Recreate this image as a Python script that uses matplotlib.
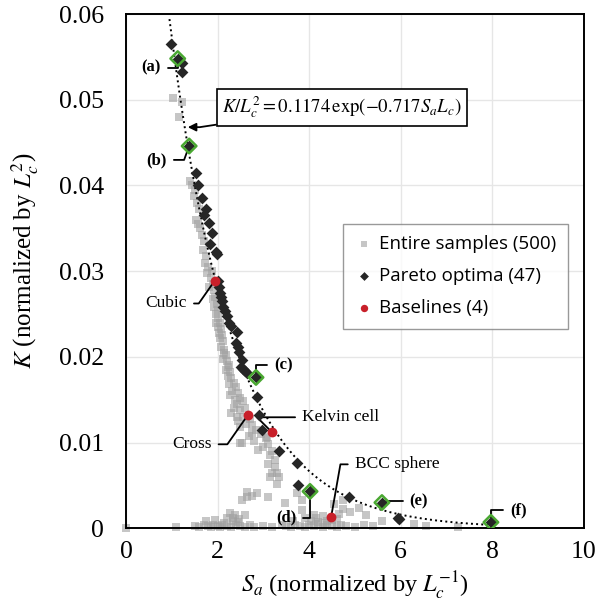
import numpy as np
import matplotlib
matplotlib.use("Agg")
import matplotlib.pyplot as plt

plt.rcParams['mathtext.fontset'] = 'stix'
plt.rcParams['font.family'] = ['Liberation Serif', 'DejaVu Serif']

# entire samples (gray squares)
samp_x = [0.0, 1.03, 1.16, 1.22,
          1.40, 1.45, 1.50, 1.48, 1.55, 1.60, 1.52, 1.58, 1.62, 1.65, 1.70, 1.68, 1.75, 1.72, 1.80, 1.78,
          1.85, 1.88, 1.90, 1.92, 1.95, 1.98, 2.00, 1.96, 2.02, 2.05, 2.08, 2.03, 2.10, 2.12, 2.08, 2.15,
          2.18, 2.12, 2.20, 2.25, 2.18, 2.28, 2.22, 2.30, 2.35, 2.25, 2.40, 2.32, 2.45, 2.28, 2.50, 2.38,
          2.55, 2.42, 2.35, 2.48, 2.60, 2.30, 2.55, 2.70, 2.45, 2.62, 2.75, 2.50, 2.85, 2.95, 2.68, 3.05,
          2.80, 3.10, 3.00, 3.20, 3.15, 3.25, 3.10, 3.30, 3.20, 3.35, 3.25, 3.30, 3.08, 2.88, 2.53, 2.75,
          2.64, 2.75, 2.86, 2.53, 2.27, 2.34, 2.60, 3.10, 3.14, 3.47, 3.73, 2.42, 2.34, 2.64, 2.49,
          1.10, 1.50, 1.60, 1.70, 1.80, 1.85, 1.90, 2.00, 2.05, 2.10, 2.20, 2.30, 2.40, 2.50, 2.60, 2.70,
          2.80, 3.00, 3.20, 3.40, 3.50, 3.60, 3.70, 3.80, 3.90, 4.00, 4.10, 4.20, 4.30, 4.40, 4.50, 4.60,
          4.70, 4.80, 5.00, 5.20, 5.40, 6.30, 6.55, 7.25,
          1.75, 1.95, 2.15, 2.45, 3.65, 3.90, 4.05, 4.15, 4.30, 4.40, 4.60, 4.65, 4.75, 4.90, 5.10, 5.25,
          5.60, 3.85, 3.85, 4.74, 4.55, 4.20, 4.35, 4.50, 4.10, 2.38, 2.20, 2.46,
          1.82, 1.90, 1.97, 2.06, 2.14, 2.22, 1.93, 2.01]
samp_y = [0.0, 0.0502, 0.0480, 0.0497,
          0.0405, 0.0400, 0.0395, 0.0388, 0.0380, 0.0372, 0.0360, 0.0355, 0.0350, 0.0342, 0.0335, 0.0325, 0.0318, 0.0310, 0.0305, 0.0298,
          0.0292, 0.0300, 0.0285, 0.0278, 0.0270, 0.0262, 0.0255, 0.0250, 0.0245, 0.0240, 0.0232, 0.0228, 0.0225, 0.0218, 0.0212, 0.0208,
          0.0202, 0.0198, 0.0195, 0.0190, 0.0185, 0.0182, 0.0178, 0.0175, 0.0170, 0.0168, 0.0165, 0.0160, 0.0158, 0.0155, 0.0152, 0.0150,
          0.0148, 0.0145, 0.0140, 0.0138, 0.0140, 0.0135, 0.0130, 0.0128, 0.0125, 0.0122, 0.0120, 0.0118, 0.0115, 0.0110, 0.0108, 0.0105,
          0.0102, 0.0098, 0.0095, 0.0090, 0.0085, 0.0080, 0.0075, 0.0064, 0.0065, 0.0060, 0.0071, 0.0052, 0.0106, 0.0091, 0.0099, 0.0111,
          0.0042, 0.0038, 0.0041, 0.0033, 0.0018, 0.0012, 0.0015, 0.0036, 0.0060, 0.0029, 0.0041, 0.0130, 0.0009, 0.0036, 0.0099,
          0.0002, 0.0003, 0.0002, 0.0004, 0.0003, 0.0002, 0.0004, 0.0003, 0.0002, 0.0004, 0.0003, 0.0002, 0.0004, 0.0003, 0.0002, 0.0004,
          0.0002, 0.0003, 0.0002, 0.0004, 0.0003, 0.0002, 0.0004, 0.0003, 0.0002, 0.0004, 0.0003, 0.0005, 0.0002, 0.0004, 0.0003, 0.0002,
          0.0004, 0.0003, 0.0002, 0.0004, 0.0003, 0.0005, 0.0003, 0.0002,
          0.0008, 0.0010, 0.0006, 0.0007, 0.0009, 0.0012, 0.0009, 0.0012, 0.0014, 0.0008, 0.0011, 0.0017, 0.0023, 0.0019, 0.0024, 0.0015,
          0.0009, 0.0033, 0.0021, 0.0033, 0.0028, 0.0007, 0.0006, 0.0010, 0.0015, 0.0016, 0.0012, 0.0011,
          0.0282, 0.0268, 0.0240, 0.0222, 0.0205, 0.0188, 0.0258, 0.0235]

# Pareto optima (47)
par_x = [0.98, 1.23, 1.22, 1.13, 1.38, 1.54, 1.57, 1.67, 1.70, 1.81, 1.83, 1.96, 1.99, 2.03, 2.05, 2.09,
         2.12, 2.16, 2.25, 2.42, 2.40, 2.44, 2.47, 2.51, 2.56, 2.60, 2.64, 2.84, 2.86, 2.90, 2.97, 3.34,
         3.73, 3.76, 4.02, 4.87, 5.59, 5.96, 7.97, 2.00, 2.07, 2.20, 2.29, 1.87, 1.74, 2.53, 5.93]
par_y = [0.0565, 0.0543, 0.0532, 0.0548, 0.0446, 0.0415, 0.0400, 0.0385, 0.0365, 0.0356, 0.0332, 0.0322,
         0.0320, 0.0282, 0.0274, 0.0265, 0.0258, 0.0254, 0.0240, 0.0229, 0.0216, 0.0211, 0.0206, 0.0188,
         0.0186, 0.0184, 0.0181, 0.0176, 0.0153, 0.0132, 0.0115, 0.0090, 0.0076, 0.0051, 0.0043, 0.0036,
         0.0030, 0.0011, 0.0007, 0.0288, 0.0270, 0.0248, 0.0236, 0.0345, 0.0372, 0.0196, 0.0012]

# selected designs (a)-(f)
sel_names = ['(a)', '(b)', '(c)', '(d)', '(e)', '(f)']
sel_x = [1.13, 1.38, 2.84, 4.02, 5.59, 7.97]
sel_y = [0.0548, 0.0446, 0.0176, 0.0043, 0.0030, 0.0007]

# baselines
base_names = ['Cubic', 'Cross', 'Kelvin cell', 'BCC sphere']
base_x = [1.94, 2.66, 3.19, 4.48]
base_y = [0.0289, 0.0132, 0.0112, 0.0013]

fit_a, fit_b = 0.1174, 0.717

fig = plt.figure(figsize=(5.97, 6.10), dpi=100)
ax = fig.add_axes([0.211, 0.134, 0.767, 0.843])

ax.scatter(samp_x, samp_y, marker='s', s=32, color='#a0a0a0', alpha=0.6, linewidths=0,
           clip_on=False, zorder=2, label='Entire samples (500)')
xf = np.linspace(0.95, 8.0, 200)
ax.plot(xf, fit_a * np.exp(-fit_b * xf), color='black', ls=':', lw=1.4, zorder=3)
ax.scatter(par_x, par_y, marker='D', s=36, color='#262626', linewidths=0, zorder=4,
           label='Pareto optima (47)')
ax.scatter(sel_x, sel_y, marker='D', s=55, facecolor='none', edgecolor='#4aa832', linewidths=1.8, zorder=5)
ax.scatter(base_x, base_y, marker='o', s=50, color='#c8202a', linewidths=0, zorder=6,
           label='Baselines (4)')

ax.set_xlim(0, 10)
ax.set_ylim(0, 0.06)
ax.set_xticks([0, 2, 4, 6, 8, 10])
ax.set_yticks([0, 0.01, 0.02, 0.03, 0.04, 0.05, 0.06])
ax.set_yticklabels(['0', '0.01', '0.02', '0.03', '0.04', '0.05', '0.06'])
ax.tick_params(length=0, labelsize=18.5)
ax.tick_params(axis='x', pad=9)
ax.tick_params(axis='y', pad=16)
ax.grid(color='#e6e6e6', lw=1)
ax.set_axisbelow(True)
for sp in ax.spines.values():
    sp.set_linewidth(1.4)

ax.set_xlabel(r'$S_a$ (normalized by $L_c^{-1}$)', fontsize=17.5, labelpad=5)
ax.set_ylabel(r'$K$ (normalized by $L_c^2$)', fontsize=18)
ax.yaxis.set_label_coords(-0.185, 0.52)

leg = ax.legend(loc='upper right', bbox_to_anchor=(0.985, 0.61), frameon=True,
                fancybox=False, edgecolor='#808080', handletextpad=0.3, borderpad=0.6,
                labelspacing=0.75, handlelength=1.0, markerscale=0.75,
                prop={'family': 'Open Sans', 'size': 13.5})
leg.get_frame().set_linewidth(1.0)

# equation box
ax.annotate(r'$K/L_c^2 = 0.1174\,\exp(-0.717 S_a L_c)$', xy=(1.35, 0.0468), xycoords='data',
            xytext=(2.1, 0.0491), textcoords='data', fontsize=13.5, va='center', ha='left',
            bbox=dict(boxstyle='square,pad=0.3', fc='white', ec='black', lw=1.2),
            arrowprops=dict(arrowstyle='-|>', color='black', lw=1.3, mutation_scale=12,
                            connectionstyle='arc,angleA=180,angleB=0,armA=12,armB=12,rad=0',
                            shrinkA=0, shrinkB=0))

lead = dict(arrowstyle='-', color='black', lw=1.3, shrinkA=3, shrinkB=3)
bold = dict(fontsize=12, fontweight='bold', va='center')
# text offset (points), alignment, angle of the leg into the point
sel_off = [(-12, -6.5, 'right', 90), (-16, -10, 'right', 70), (13, 8.6, 'left', 90),
           (-10, -19, 'right', 90), (20, 1, 'left', 150), (13.7, 8.6, 'left', 90)]
for name, x, y, (dx, dy, ha, ang) in zip(sel_names, sel_x, sel_y, sel_off):
    ax.annotate(name, xy=(x, y), xytext=(dx, dy), textcoords='offset points', ha=ha, **bold,
                arrowprops=dict(lead, connectionstyle='angle,angleA=0,angleB=%d,rad=0' % ang))

base_off = [(-20, -16.5, 'right', 55), (-26, -21, 'right', 55), (21.6, 10.8, 'left', 135),
            (17, 38, 'left', 80)]
for name, x, y, (dx, dy, ha, ang) in zip(base_names, base_x, base_y, base_off):
    ax.annotate(name, xy=(x, y), xytext=(dx, dy), textcoords='offset points', ha=ha, va='center',
                fontsize=12.5,
                arrowprops=dict(lead, connectionstyle='angle,angleA=0,angleB=%d,rad=0' % ang))

fig.savefig('out.png', dpi=100)
